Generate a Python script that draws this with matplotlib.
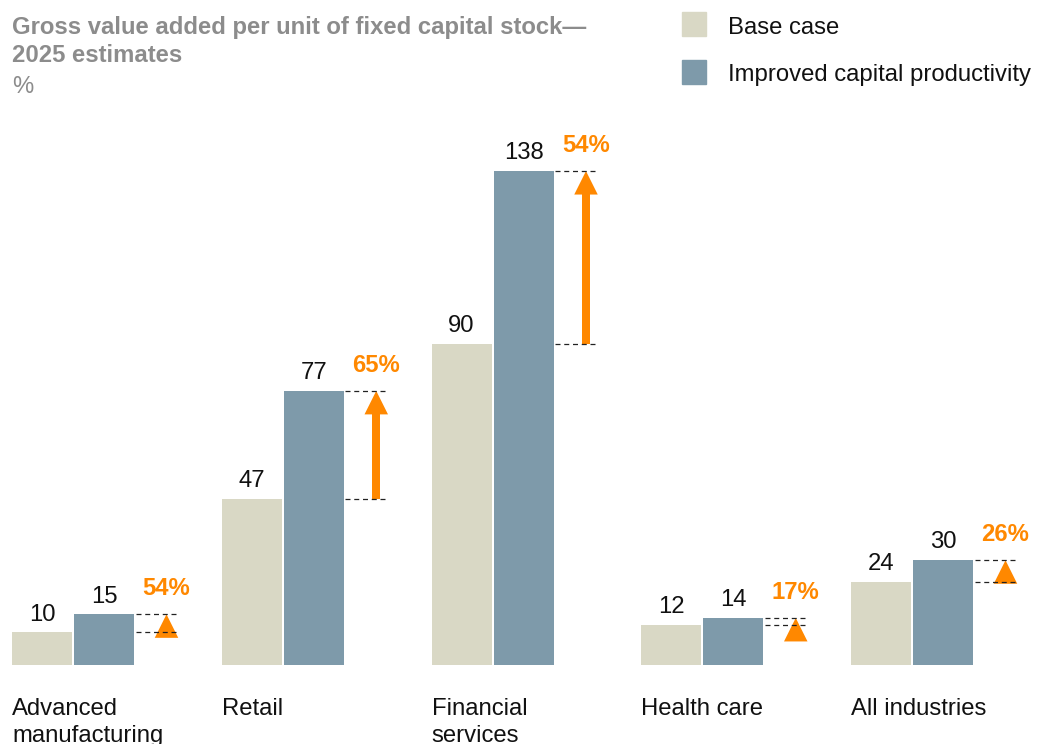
import matplotlib
matplotlib.use("Agg")
import matplotlib.pyplot as plt
from matplotlib.patches import Rectangle, Polygon

plt.rcParams['font.family'] = ['Liberation Sans', 'DejaVu Sans']

categories = ["Advanced\nmanufacturing", "Retail", "Financial\nservices", "Health care", "All industries"]
base_case = [10, 47, 90, 12, 24]
improved = [15, 77, 138, 14, 30]
pct_labels = ["54%", "65%", "54%", "17%", "26%"]
legend_labels = ["Base case", "Improved capital productivity"]
title_lines = "Gross value added per unit of fixed capital stock\u2014\n2025 estimates"
unit_label = "%"

BASE_COLOR = "#D9D8C5"
IMP_COLOR = "#7E9AAA"
ORANGE = "#FF8800"
GRAY = "#8C8C8C"

W, H = 1045, 744
fig = plt.figure(figsize=(W / 100, H / 100), dpi=100)

ax_bottom_px = 665
ax = fig.add_axes([0, (H - ax_bottom_px) / H, 1, ax_bottom_px / H])
px_per_unit_y = 3.604
zero_px = 668.4
ax.set_ylim((zero_px - ax_bottom_px) / px_per_unit_y, zero_px / px_per_unit_y)
stride = 209.75
ax.set_xlim(-73 / stride, (W - 73) / stride)
ax.axis('off')

bw = 60 / stride
off = 31 / stride
xs = list(range(len(categories)))
FS = 17.2

ax.bar([x - off for x in xs], base_case, width=bw, color=BASE_COLOR, bottom=0)
ax.bar([x + off for x in xs], improved, width=bw, color=IMP_COLOR, bottom=0)

arrow_off = 93.5 / stride
d0, d1 = 62.5 / stride, 105.5 / stride
hw = 11.75 / stride
sw = 4.15 / stride
hl = 23.5 / px_per_unit_y
for i, x in enumerate(xs):
    b, v = base_case[i], improved[i]
    ax.annotate(str(b), (x - off, b), xytext=(0, 8.5), textcoords='offset points',
                ha='center', va='baseline', fontsize=FS, color='#111111')
    ax.annotate(str(v), (x + off, v), xytext=(0, 8.5), textcoords='offset points',
                ha='center', va='baseline', fontsize=FS, color='#111111')
    ax.plot([x + d0, x + d1], [b, b], color='#222222', lw=0.9, ls=(0, (4, 3)), clip_on=False)
    ax.plot([x + d0, x + d1], [v, v], color='#222222', lw=0.9, ls=(0, (4, 3)), clip_on=False)
    ax_x = x + arrow_off
    ax.add_patch(Polygon([(ax_x - hw, v - hl), (ax_x + hw, v - hl), (ax_x, v)],
                         closed=True, color=ORANGE, lw=0, clip_on=False))
    if v - hl > b:
        ax.add_patch(Rectangle((ax_x - sw, b), 2 * sw, v - hl - b + 0.3,
                               color=ORANGE, lw=0, clip_on=False))
    ax.annotate(pct_labels[i], (ax_x, v), xytext=(0, 13.7), textcoords='offset points',
                ha='center', va='baseline', fontsize=FS, color=ORANGE, fontweight='bold')
    ax.annotate(categories[i], (x - off - bw / 2, 0), xycoords=('data', 'axes fraction'),
                xytext=(0, -23.5), textcoords='offset points', ha='left', va='top',
                fontsize=FS, color='#111111', linespacing=1.32, annotation_clip=False)

# stray zero label under the retail arrow
ax.annotate("0", (1 + arrow_off, 0), xytext=(0, 8.5), textcoords='offset points',
            ha='center', va='baseline', fontsize=FS, color='#111111')

# title
fig.text(12 / W, 1 - 16 / H, title_lines, ha='left', va='top', fontsize=FS,
         fontweight='bold', color=GRAY, linespacing=1.28)
fig.text(12 / W, 1 - 76 / H, unit_label, ha='left', va='top', fontsize=FS, color=GRAY)

# legend
for j, (lab, col) in enumerate(zip(legend_labels, [BASE_COLOR, IMP_COLOR])):
    ytop = 12 + j * 47.5
    fig.patches.append(Rectangle((682 / W, 1 - (ytop + 24) / H), 24 / W, 24 / H,
                                 transform=fig.transFigure, color=col, figure=fig))
    fig.text(728 / W, 1 - (ytop + 13.5) / H, lab, ha='left', va='center_baseline',
             fontsize=FS, color='#111111')

fig.savefig("out.png", dpi=100)
